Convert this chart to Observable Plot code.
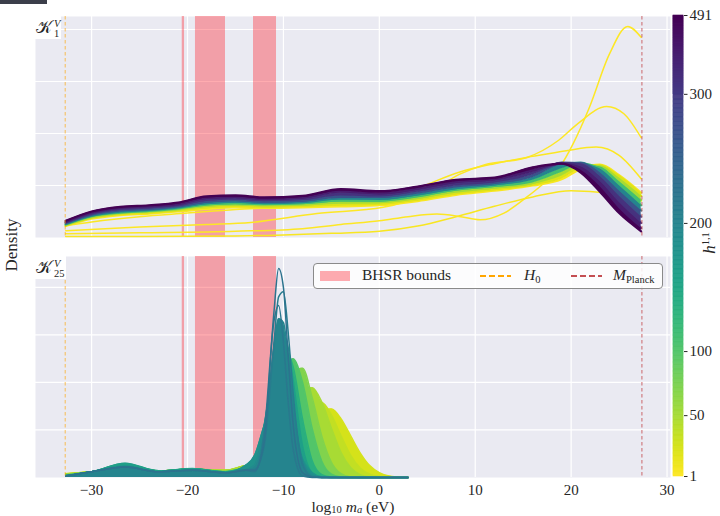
<!DOCTYPE html>
<html><head><meta charset="utf-8">
<script src="https://cdn.jsdelivr.net/npm/d3@7"></script>
<script src="https://cdn.jsdelivr.net/npm/@observablehq/plot@0.6"></script>
<style>
html,body{margin:0;padding:0;background:#fff;}
#wrap{position:relative;width:720px;height:516px;overflow:hidden;font-family:"Liberation Serif","DejaVu Serif",serif;color:#262626;}
#wrap svg{position:absolute;}
.abs{position:absolute;white-space:nowrap;}
.K{position:absolute;left:1px;top:0px;font-size:17px;line-height:22px;font-family:"DejaVu Serif","Liberation Serif",serif;}
.sp{position:absolute;font-size:10.5px;line-height:11px;font-style:italic;}
.sb{position:absolute;font-size:10.5px;line-height:11px;}
.sub{font-size:0.68em;position:relative;top:0.25em;}
.xsub{font-size:0.68em;position:relative;top:0.12em;}
.sup{font-size:0.62em;position:relative;top:-0.55em;}
</style></head><body><div id="wrap"></div>
<script>
// ---------------- data ----------------
const X_TICKS = [-30, -20, -10, 0, 10, 20, 30];
const GRID_TOP = [1, 2, 3, 4];
const GRID_BOTTOM = [1, 2, 3, 4];
const CBAR_TICKS = [1, 50, 100, 200, 300, 491];
const CBAR_FRAC = [0, 0.132, 0.271, 0.549, 0.829, 1];
const H0_LOG10 = -32.75;
const MPLANCK_LOG10 = 27.38;
const BHSR_FROM = [-20.55, -19.17, -13.12];
const BHSR_TO = [-20.31, -16.04, -10.72];

// Panel K_1^V : band of KDE curves (density, arbitrary grid units)
const P1_X = [-32.7,-30,-27,-24,-21,-18,-15,-12,-8,-4,0,4,8,12,16,19,21,23,25,27.3];
const P1_H = [5, 20, 50, 110, 200, 270, 330, 400, 491];
const p1_h5   = [0.22,0.36,0.43,0.46,0.50,0.55,0.58,0.57,0.58,0.60,0.62,0.70,0.82,0.90,1.00,1.12,1.32,1.40,1.20,0.86];
const p1_h20  = [0.23,0.38,0.45,0.48,0.52,0.58,0.61,0.59,0.61,0.64,0.65,0.73,0.85,0.93,1.02,1.18,1.36,1.38,1.15,0.80];
const p1_h50  = [0.24,0.39,0.47,0.50,0.54,0.61,0.63,0.62,0.63,0.68,0.68,0.76,0.89,0.96,1.05,1.25,1.40,1.36,1.08,0.72];
const p1_h110 = [0.25,0.41,0.48,0.51,0.56,0.63,0.66,0.64,0.66,0.72,0.71,0.80,0.92,0.99,1.10,1.32,1.42,1.32,1.00,0.62];
const p1_h200 = [0.26,0.42,0.50,0.53,0.58,0.66,0.69,0.66,0.68,0.75,0.75,0.83,0.95,1.02,1.15,1.40,1.44,1.25,0.90,0.52];
const p1_h270 = [0.28,0.44,0.52,0.55,0.60,0.69,0.72,0.69,0.71,0.80,0.78,0.87,0.99,1.05,1.20,1.44,1.42,1.18,0.80,0.40];
const p1_h330 = [0.29,0.46,0.55,0.58,0.62,0.73,0.75,0.72,0.74,0.85,0.82,0.91,1.04,1.09,1.25,1.43,1.36,1.08,0.68,0.28];
const p1_h400 = [0.30,0.48,0.57,0.60,0.64,0.76,0.78,0.74,0.77,0.89,0.85,0.94,1.07,1.12,1.30,1.42,1.30,0.98,0.56,0.18];
const p1_h491 = [0.32,0.50,0.59,0.62,0.67,0.79,0.81,0.77,0.80,0.93,0.89,0.98,1.11,1.15,1.35,1.42,1.25,0.88,0.47,0.12];
const P1_SERIES = [p1_h5, p1_h20, p1_h50, p1_h110, p1_h200, p1_h270, p1_h330, p1_h400, p1_h491];

// Panel K_1^V : individual low-h curves
const P1_OUT_H = [4, 3, 2, 1];
const p1o_h4_x = [-32.7,-25,-15,-10,-5,0,4,8,12,16,20,24,27.3];
const p1o_h4_y = [0.02,0.02,0.03,0.05,0.08,0.12,0.22,0.40,0.60,0.78,0.90,0.85,0.70];
const p1o_h3_x = [-32.7,-30,-25,-20,-15,-10,-5,0,4,8.4,12,16,19.5,22.6,25,27.3];
const p1o_h3_y = [0.23,0.30,0.40,0.47,0.54,0.58,0.62,0.70,0.95,1.26,1.42,1.56,1.67,1.74,1.58,1.13];
const p1o_h2_x = [-32.7,-25,-18,-13.4,-6.5,0.4,5,8.4,11,15.4,18.7,20.7,23.7,25.5,27.3];
const p1o_h2_y = [0.13,0.20,0.25,0.29,0.46,0.58,0.85,1.22,1.40,1.54,1.87,2.19,2.52,2.38,1.92];
const p1o_h1_x = [-32.7,-25,-15,-8,-4,0,3,6,8.5,10.5,13,15.4,17,18.8,20.2,21.9,24,25.9,27.3];
const p1o_h1_y = [0.07,0.09,0.12,0.17,0.25,0.32,0.40,0.45,0.40,0.34,0.47,0.78,1.02,1.35,1.80,2.50,3.53,4.06,3.85];
const P1_OUT_X = [p1o_h4_x, p1o_h3_x, p1o_h2_x, p1o_h1_x];
const P1_OUT_Y = [p1o_h4_y, p1o_h3_y, p1o_h2_y, p1o_h1_y];

// Panel K_25^V
const P2_X = [-32.7,-30,-26.5,-23,-19.5,-16,-14,-13,-12,-11,-10.5,-10,-9.5,-9,-8,-7,-6,-5,-4,-3,-2,-1,0,1,2,3];
const P2_H = [25, 35, 50, 70, 100, 135, 160, 180, 190, 200, 212, 218, 225];
const P2_FILLED = [true, true, true, true, true, true, true, true, true, true, false, false, false];
const p2_h25  = [0.08,0.12,0.16,0.14,0.17,0.15,0.22,0.24,0.28,0.33,0.39,0.49,0.61,0.74,1.02,1.26,1.42,1.44,1.24,0.88,0.52,0.25,0.10,0.03,0.01,0];
const p2_h35  = [0.08,0.12,0.16,0.14,0.17,0.15,0.25,0.28,0.35,0.47,0.60,0.75,0.91,1.07,1.36,1.56,1.58,1.32,0.88,0.47,0.20,0.07,0.02,0,0,0];
const p2_h50  = [0.07,0.12,0.18,0.14,0.18,0.15,0.25,0.30,0.38,0.60,0.80,1.01,1.24,1.47,1.81,1.89,1.59,1.04,0.53,0.21,0.06,0.01,0,0,0,0];
const p2_h70  = [0.06,0.12,0.22,0.14,0.18,0.13,0.20,0.22,0.25,0.73,1.10,1.52,1.91,2.22,2.30,1.68,0.87,0.32,0.08,0.01,0,0,0,0,0,0];
const p2_h100 = [0.05,0.12,0.26,0.14,0.18,0.12,0.20,0.22,0.34,1.03,1.52,2.00,2.36,2.50,2.00,1.03,0.34,0.07,0.01,0,0,0,0,0,0,0];
const p2_h135 = [0.04,0.12,0.28,0.14,0.18,0.12,0.20,0.22,0.47,1.46,2.05,2.48,2.60,2.34,1.22,0.35,0.06,0.01,0,0,0,0,0,0,0,0];
const p2_h160 = [0.04,0.12,0.30,0.14,0.19,0.12,0.18,0.20,0.66,2.06,2.73,3.00,2.73,2.06,0.66,0.10,0.01,0,0,0,0,0,0,0,0,0];
const p2_h180 = [0.03,0.12,0.24,0.12,0.16,0.10,0.25,0.47,1.10,1.64,1.70,1.57,1.30,0.96,0.38,0.10,0.01,0,0,0,0,0,0,0,0,0];
const p2_h190 = [0.03,0.12,0.22,0.12,0.15,0.10,0.16,0.26,1.11,2.38,2.69,2.55,2.04,1.37,0.37,0.05,0,0,0,0,0,0,0,0,0,0];
const p2_h200 = [0.03,0.12,0.22,0.12,0.15,0.10,0.15,0.20,0.92,2.72,3.34,3.26,2.54,1.58,0.31,0.02,0,0,0,0,0,0,0,0,0,0];
const p2_h212 = [0.03,0.12,0.22,0.12,0.15,0.10,0.15,0.17,0.66,2.80,3.80,3.91,3.05,1.80,0.27,0.01,0,0,0,0,0,0,0,0,0,0];
const p2_h218 = [0.03,0.12,0.22,0.12,0.15,0.10,0.15,0.12,0.94,3.27,3.62,2.84,1.58,0.62,0.03,0,0,0,0,0,0,0,0,0,0,0];
const p2_h225 = [0.03,0.12,0.22,0.12,0.15,0.10,0.15,0.15,0.75,3.45,4.40,4.00,2.55,1.15,0.10,0.01,0,0,0,0,0,0,0,0,0,0];
const P2_SERIES = [p2_h25, p2_h35, p2_h50, p2_h70, p2_h100, p2_h135, p2_h160, p2_h180, p2_h190, p2_h200, p2_h212, p2_h218, p2_h225];

// ---------------- drawing ----------------
const wrap = document.getElementById("wrap");
const norm = d3.scaleLinear().domain(CBAR_TICKS).range(CBAR_FRAC).clamp(true);
const colorOf = h => d3.interpolateViridis(1 - norm(h));
const XDOM = [-35.85, 30.36];
const bands = BHSR_FROM.map((a, i) => ({x1: a, x2: BHSR_TO[i]}));
const FONT = "'Liberation Serif', 'DejaVu Serif', serif";

function panel({height, marginTop, marginBottom, ymax, grid, marks, xaxis}) {
  return Plot.plot({
    width: 720, height, marginLeft: 35, marginRight: 50, marginTop, marginBottom,
    x: {domain: XDOM, axis: null},
    y: {domain: [0, ymax], axis: null},
    color: {type: "identity"},
    style: {fontFamily: FONT, fontSize: "15px", color: "#262626", background: "transparent", overflow: "visible"},
    marks: [
      Plot.frame({fill: "#eaeaf2", stroke: null}),
      Plot.gridX(X_TICKS, {stroke: "#fff", strokeOpacity: 1, strokeWidth: 1.2}),
      Plot.gridY(grid, {stroke: "#fff", strokeOpacity: 1, strokeWidth: 1.2}),
      Plot.rect(bands, {x1: "x1", x2: "x2", fill: "rgb(255,47,58)", fillOpacity: 0.4}),
      ...marks,
      Plot.ruleX([H0_LOG10], {stroke: "orange", strokeOpacity: 0.55, strokeWidth: 1.2, strokeDasharray: "3.5,2.5"}),
      Plot.ruleX([MPLANCK_LOG10], {stroke: "#c44e52", strokeOpacity: 0.85, strokeWidth: 1, strokeDasharray: "3.5,2.5"}),
      ...(xaxis ? [Plot.axisX(X_TICKS, {tickSize: 0, tickPadding: 7, fontSize: 15, label: null})] : [])
    ]
  });
}

// panel 1 marks
const p1marks = [];
P1_OUT_H.forEach((h, i) => {
  const rows = P1_OUT_X[i].map((x, j) => ({x, y: P1_OUT_Y[i][j]}));
  p1marks.push(Plot.line(rows, {x: "x", y: "y", stroke: colorOf(h), strokeWidth: 1.5, curve: "monotone-x"}));
});
P1_H.forEach((h, i) => {
  const c = colorOf(h);
  if (i > 0) {
    const lo = P1_SERIES[i - 1], hi = P1_SERIES[i];
    const band = P1_X.map((x, j) => ({x, y1: lo[j], y2: hi[j]}));
    p1marks.push(Plot.areaY(band, {x: "x", y1: "y1", y2: "y2", fill: c, curve: "monotone-x"}));
  }
  const rows = P1_X.map((x, j) => ({x, y: P1_SERIES[i][j]}));
  p1marks.push(Plot.line(rows, {x: "x", y: "y", stroke: c, strokeWidth: 2.2, curve: "monotone-x"}));
});

// panel 2 marks
const p2marks = [];
P2_H.forEach((h, i) => {
  const rows = P2_X.map((x, j) => ({x, y: P2_SERIES[i][j]}));
  const c = colorOf(h);
  if (P2_FILLED[i]) p2marks.push(Plot.areaY(rows, {x: "x", y: "y", fill: c, curve: "monotone-x"}));
  p2marks.push(Plot.line(rows, {x: "x", y: "y", stroke: c, strokeWidth: 1.5, curve: "monotone-x"}));
});

const panelTop = panel({height: 240, marginTop: 16, marginBottom: 3, ymax: 4.25, grid: GRID_TOP, marks: p1marks, xaxis: false});
panelTop.style.left = "0px"; panelTop.style.top = "0px";
wrap.appendChild(panelTop);

const panelBot = panel({height: 276, marginTop: 16, marginBottom: 39, ymax: 4.65, grid: GRID_BOTTOM, marks: p2marks, xaxis: true});
panelBot.style.left = "0px"; panelBot.style.top = "240px";
wrap.appendChild(panelBot);

// colorbar
const H_ALL = d3.range(1, 491);
const cbar = Plot.plot({
  width: 60, height: 516, marginLeft: 13, marginRight: 37, marginTop: 15, marginBottom: 40,
  y: {type: "linear", domain: CBAR_TICKS, range: CBAR_FRAC.map(f => 476 - 461 * f), axis: null},
  color: {type: "identity"},
  style: {fontFamily: FONT, fontSize: "15px", color: "#262626", background: "transparent", overflow: "visible"},
  marks: [
    Plot.rect(H_ALL, {y1: d => d, y2: d => d + 1, fill: d => colorOf(d + 0.5), stroke: d => colorOf(d + 0.5), strokeWidth: 0.6}),
    Plot.axisY(CBAR_TICKS, {anchor: "right", tickSize: 3.5, tickPadding: 2.5, fontSize: 15, label: null})
  ]
});
cbar.style.left = "660px"; cbar.style.top = "0px";
wrap.appendChild(cbar);

// HTML text pieces
function add(html, css) {
  const d = document.createElement("div");
  d.className = "abs";
  d.innerHTML = html;
  Object.assign(d.style, css);
  wrap.appendChild(d);
  return d;
}
// dark strip top-left
add("", {left: "0px", top: "0px", width: "47px", height: "3.5px", background: "#3b3e4a"});

// panel labels
add('<span class="K">𝒦</span><span class="sp" style="left:19px;top:2px">V</span><span class="sb" style="left:19px;top:12px">1</span>',
    {left: "35px", top: "16px", width: "26px", height: "23px", background: "#fff"});
add('<span class="K">𝒦</span><span class="sp" style="left:19px;top:2px">V</span><span class="sb" style="left:19px;top:12px">25</span>',
    {left: "35px", top: "256px", width: "31px", height: "23px", background: "#fff"});

// Density label
add("Density", {left: "-38px", top: "235px", width: "100px", height: "20px", lineHeight: "20px", textAlign: "center",
  fontSize: "17px", transform: "rotate(-90deg)"});
// x label
add('log<span class="xsub">10</span> <i>m<span class="xsub">a</span></i> (eV)',
  {left: "253px", top: "500px", width: "200px", height: "14px", lineHeight: "14px", textAlign: "center", fontSize: "15.5px"});
// colorbar label
add('<i>h</i><span class="sup">1,1</span>',
  {left: "690px", top: "236px", width: "40px", height: "14px", lineHeight: "14px", textAlign: "center", fontSize: "17px", transform: "rotate(-90deg)"});

// legend
add('<div style="position:absolute;left:6px;top:7px;width:30px;height:10px;background:rgba(255,47,58,0.4)"></div>' +
    '<span style="position:absolute;left:48px;top:2px;font-size:15.5px;line-height:17px">BHSR bounds</span>' +
    '<svg style="position:absolute;left:166px;top:9px" width="31" height="6"><line x1="0" y1="3" x2="31" y2="3" stroke="orange" stroke-width="2" stroke-dasharray="6,3"/></svg>' +
    '<span style="position:absolute;left:210px;top:2px;font-size:15.5px;line-height:17px"><i>H</i><span class="sub">0</span></span>' +
    '<svg style="position:absolute;left:257px;top:9px" width="31" height="6"><line x1="0" y1="3" x2="31" y2="3" stroke="#c44e52" stroke-width="2" stroke-dasharray="6,3"/></svg>' +
    '<span style="position:absolute;left:299px;top:2px;font-size:15.5px;line-height:17px"><i>M</i><span class="sub">Planck</span></span>',
  {left: "313px", top: "263px", width: "348px", height: "24px", border: "1px solid #8a8a8a", borderRadius: "4px", background: "rgba(255,255,255,0.85)"});
</script></body></html>
